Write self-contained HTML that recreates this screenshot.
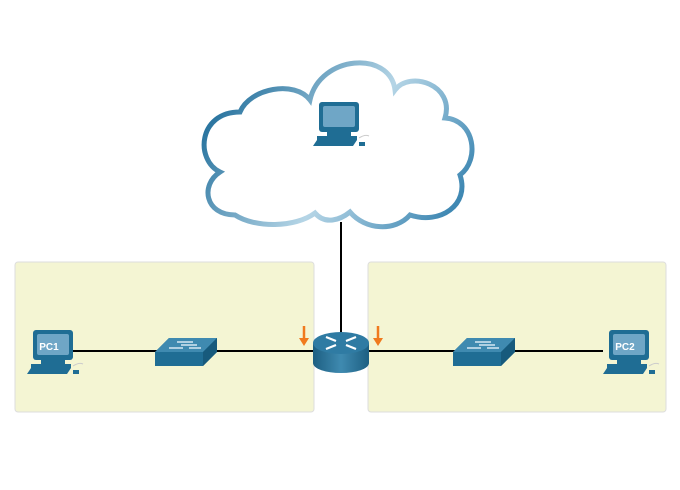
<!DOCTYPE html>
<html><head><style>body{margin:0;background:#fff}svg{display:block}</style></head><body>
<svg width="680" height="490" viewBox="0 0 680 490" xmlns="http://www.w3.org/2000/svg" font-family="Liberation Sans, sans-serif">
<defs>
<linearGradient id="cg" x1="0" y1="0.3" x2="1" y2="0.7">
<stop offset="0" stop-color="#1f6d9a"/><stop offset="0.55" stop-color="#b5d5e6"/><stop offset="1" stop-color="#3f88b3"/></linearGradient>
<linearGradient id="rg" x1="0" x2="1"><stop offset="0" stop-color="#1d5f82"/><stop offset="0.5" stop-color="#3f8ab0"/><stop offset="1" stop-color="#1d5f82"/></linearGradient>
<g id="pc">
<rect x="6" y="0" width="40" height="30" rx="3" fill="#1f6d94"/>
<rect x="10" y="4" width="32" height="21" rx="2" fill="#6fa6c6"/>
<rect x="14" y="30" width="24" height="4" fill="#1f6d94"/>
<rect x="4" y="34" width="40" height="4" fill="#1f6d94"/>
<polygon points="4,38 44,38 40,44 0,44" fill="#1f6d94"/>
<rect x="46" y="40" width="6" height="4" fill="#1f6d94"/>
<path d="M46,36 q6,-4 10,-2" stroke="#ccc" fill="none"/>
</g>
<g id="sw">
<polygon points="0,14 14,0 62,0 62,14 48,28 0,28" fill="#1f6d94"/>
<polygon points="0,14 14,0 62,0 48,14" fill="#3f8ab0"/>
<polygon points="48,14 62,0 62,14 48,28" fill="#175a7c"/>
<path d="M14,10 h14 M26,7 h16 M22,4 h16 M34,10 h12" stroke="#d6e8f2" stroke-width="1.5"/>
</g>
</defs>
<rect x="15" y="262" width="299" height="150" rx="3" fill="#f4f5d3" stroke="#ddd"/>
<rect x="368" y="262" width="298" height="150" rx="3" fill="#f4f5d3" stroke="#ddd"/>
<path d="M235,215 C205,215 200,185 220,172 C195,160 198,112 240,112 C250,88 295,80 310,100 C320,55 390,50 395,90 C410,70 455,85 445,118 C475,120 480,160 460,175 C470,205 440,225 410,215 C395,232 365,230 350,212 C340,220 325,225 315,213 C295,228 255,228 235,215 Z" fill="#fff" stroke="url(#cg)" stroke-width="5"/>
<line x1="341" y1="222" x2="341" y2="340" stroke="#000" stroke-width="2"/>
<line x1="70" y1="351" x2="603" y2="351" stroke="#000" stroke-width="2"/>
<use href="#pc" x="27" y="330"/>
<text x="49" y="350" font-size="10" font-weight="bold" fill="#fff" text-anchor="middle">PC1</text>
<use href="#pc" x="603" y="330"/>
<text x="625" y="350" font-size="10" font-weight="bold" fill="#fff" text-anchor="middle">PC2</text>
<use href="#pc" x="313" y="102"/>
<use href="#sw" x="155" y="338"/>
<use href="#sw" x="453" y="338"/>
<path d="M313,343 v20 a28,10 0 0 0 56,0 v-20 z" fill="url(#rg)"/>
<ellipse cx="341" cy="343" rx="28" ry="11" fill="#2f7ba3"/>
<path d="M326,337 l10,4 M346,345 l10,4 M356,337 l-10,4 M336,345 l-10,4" stroke="#fff" stroke-width="2.2"/>
<path d="M304,326 v14" stroke="#f07a1e" stroke-width="2.5"/><polygon points="299,338 309,338 304,346" fill="#f07a1e"/>
<path d="M378,326 v14" stroke="#f07a1e" stroke-width="2.5"/><polygon points="373,338 383,338 378,346" fill="#f07a1e"/>
</svg>
</body></html>
